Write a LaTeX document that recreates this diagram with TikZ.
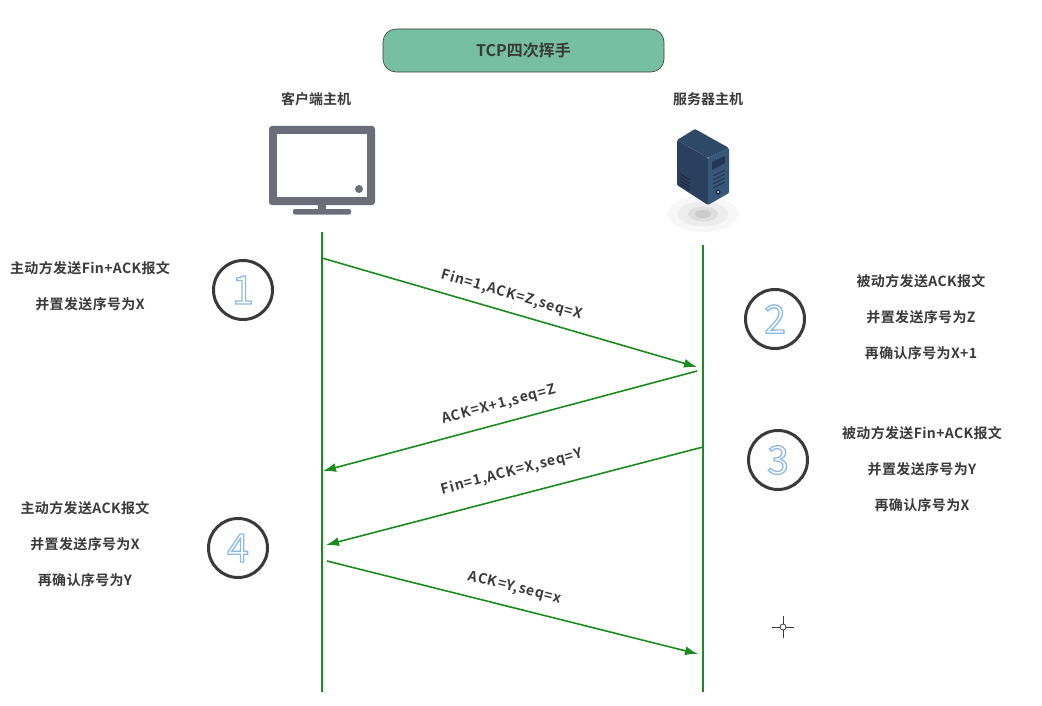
\documentclass[tikz,border=0pt]{standalone}
\usepackage{fontspec}
\usepackage[usenames,dvipsnames,x11names,rgb]{xcolor}
\setmainfont{Noto Sans CJK SC}[BoldFont={Noto Sans CJK SC Bold}]
\usetikzlibrary{calc,arrows.meta}
\definecolor{titlegreen}{HTML}{76BFA3}
\definecolor{linegreen}{HTML}{1A8C1E}
\definecolor{inkgray}{HTML}{3A3A3A}
\definecolor{screengray}{HTML}{6B6D78}
\definecolor{caseleft}{HTML}{2B405E}
\definecolor{caseright}{HTML}{36577A}
\definecolor{casetop}{HTML}{2E4868}
\definecolor{casedark}{HTML}{233650}
\definecolor{caseslot}{HTML}{1C2A40}
\tikzset{
    lifeline/.style={line width=1.7pt, linegreen},
    msg/.style={line width=1.6pt, linegreen, -{Latex[length=13pt,width=9pt]}},
    msglabel/.style={font=\bfseries\fontsize{14}{16}\selectfont\addfontfeature{LetterSpace=6}, text=inkgray, inner sep=0pt},
    note/.style={font=\bfseries\fontsize{14}{16}\selectfont\addfontfeature{LetterSpace=2.5}, text=inkgray, inner sep=0pt},
    hostlabel/.style={font=\bfseries\fontsize{14}{16}\selectfont, text=inkgray, inner sep=0pt},
    stepring/.style={circle, draw=inkgray, line width=3pt, fill=white, minimum size=59pt, inner sep=0pt, font=\fontsize{39}{41}\selectfont},
}
\newcommand{\stepdigit}[1]{\special{pdf:code q 1 Tr 1.3 w 0.55 0.73 0.89 RG}#1\special{pdf:code Q}}

\begin{document}
\begin{tikzpicture}[x=1pt, y=-1pt]
    \useasboundingbox (0,0) rectangle (1042,706);

    % title
    \node[draw=inkgray, line width=0.6pt, fill=titlegreen, rounded corners=13pt, minimum width=281pt, minimum height=43pt,
        font=\bfseries\fontsize{16}{18}\selectfont, text=inkgray] (title) at (523.5,50.5) {TCP四次挥手};
    \node[hostlabel] (client) at (316,99) {客户端主机};
    \node[hostlabel] (server) at (708,99) {服务器主机};

    % monitor
    \fill[screengray, rounded corners=3pt] (269,126) rectangle (375,205);
    \fill[white] (277,134) rectangle (367,197);
    \fill[screengray] (359,189) circle (4);
    \fill[screengray] (318,205) rectangle (326,210);
    \fill[screengray, rounded corners=2pt] (293,209) rectangle (351,214.5);

    % server
    \fill[black!3] (703,214) ellipse (35 and 18);
    \fill[black!7] (703,214) ellipse (25 and 12.5);
    \fill[black!13] (703,214) ellipse (15 and 7.5);
    \fill[black!20] (703,214) ellipse (8 and 4);
    \fill[caseleft, rounded corners=1pt] (677,140) -- (708,158) -- (708,205) -- (677,185) -- cycle;
    \fill[caseright, rounded corners=1pt] (708,158) -- (729,148) -- (729,193) -- (708,205) -- cycle;
    \fill[casetop, rounded corners=1pt] (677,140) -- (695,129) -- (729,148) -- (708,158) -- cycle;
    \fill[casedark] (712,162) -- (725,156) -- (725,163) -- (712,170) -- cycle;
    \foreach \k in {0,1,2,3} {
        \draw[line width=1pt, casedark] (713,{176+4*\k}) -- (725,{170+4*\k});
        \draw[line width=1pt, caseslot] (680,{174+3.5*\k}) -- (690,{180+3.5*\k});
    }
    \fill[caseslot] (718,192) circle (2.6);
    \fill[white] (718,192) circle (1);

    % lifelines
    \coordinate (c-top) at (322,232);
    \coordinate (c-bot) at (322,692);
    \coordinate (s-top) at (703,245);
    \coordinate (s-bot) at (703,692);
    \draw[lifeline] (c-top) -- (c-bot);
    \draw[lifeline] (s-top) -- (s-bot);

    % messages
    \coordinate (m1a) at (322,258);
    \coordinate (m1b) at (697,367);
    \coordinate (m2a) at (697,371);
    \coordinate (m2b) at (323,471);
    \coordinate (m3a) at (703,447);
    \coordinate (m3b) at (326,545);
    \coordinate (m4a) at (327,561);
    \coordinate (m4b) at (698,654);
    \draw[msg] (m1a) -- (m1b);
    \draw[msg] (m2a) -- (m2b);
    \draw[msg] (m3a) -- (m3b);
    \draw[msg] (m4a) -- (m4b);
    \node[msglabel, rotate=-16] (l1) at (512,295) {Fin=1,ACK=Z,seq=X};
    \node[msglabel, rotate=15] (l2) at (499,405) {ACK=X+1,seq=Z};
    \node[msglabel, rotate=14.5] (l3) at (512,472) {Fin=1,ACK=X,seq=Y};
    \node[msglabel, rotate=-14] (l4) at (515,588) {ACK=Y,seq=x};

    % step circles
    \foreach \n/\px/\py in {1/243/290, 2/775/319, 3/778/460, 4/238/548} {
        \node[stepring] (step\n) at (\px,\py) {\stepdigit{\n}};
    }

    % notes
    \node[note] (n1a) at (90,268) {主动方发送Fin+ACK报文};
    \node[note] (n1b) at (90,304) {并置发送序号为X};
    \node[note] (n2a) at (921,281) {被动方发送ACK报文};
    \node[note] (n2b) at (921,317) {并置发送序号为Z};
    \node[note] (n2c) at (921,353) {再确认序号为X+1};
    \node[note] (n3a) at (922,433) {被动方发送Fin+ACK报文};
    \node[note] (n3b) at (922,469) {并置发送序号为Y};
    \node[note] (n3c) at (922,505) {再确认序号为X};
    \node[note] (n4a) at (85,508) {主动方发送ACK报文};
    \node[note] (n4b) at (85,544) {并置发送序号为X};
    \node[note] (n4c) at (85,580) {再确认序号为Y};

    % cursor
    \draw[line width=0.8pt, inkgray] (783,627) circle (3);
    \draw[line width=1pt, inkgray] (772,627) -- (780,627) (786,627) -- (794,627) (783,616) -- (783,624) (783,630) -- (783,638);
\end{tikzpicture}
\end{document}
